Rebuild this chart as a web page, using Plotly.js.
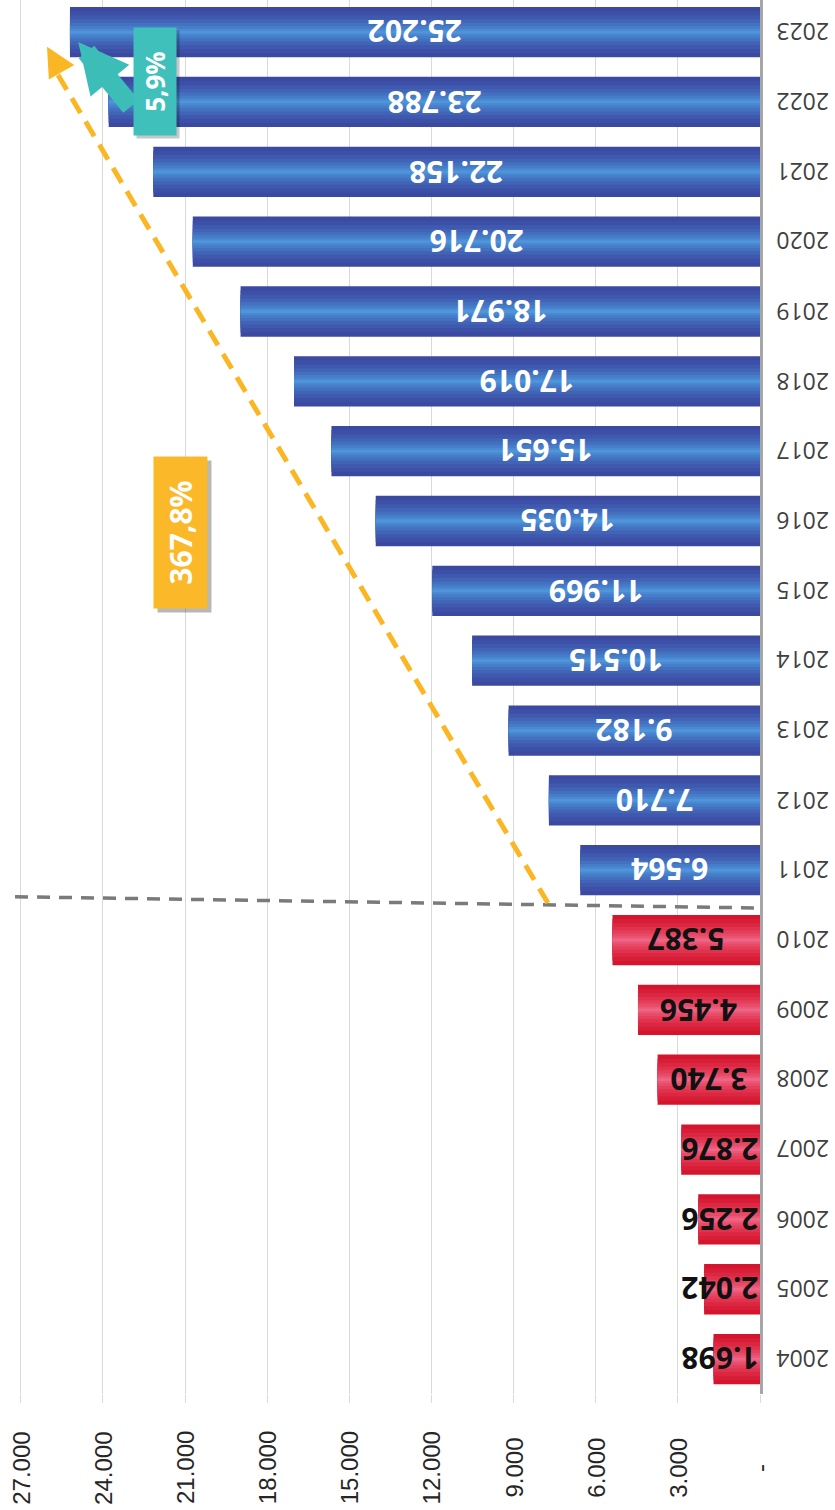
<!DOCTYPE html>
<html>
<head>
<meta charset="utf-8">
<script src="https://cdn.plot.ly/plotly-3.0.1.min.js"></script>
<style>
html,body{margin:0;padding:0;background:#ffffff;}
#chart{width:835px;height:1510px;}
</style>
</head>
<body>
<div id="chart"></div>
<script>
// ---- data ----
const years = ['2004','2005','2006','2007','2008','2009','2010','2011','2012','2013',
               '2014','2015','2016','2017','2018','2019','2020','2021','2022','2023'];
const values = [1698,2042,2256,2876,3740,4456,5387,6564,7710,9182,
                10515,11969,14035,15651,17019,18971,20716,22158,23788,25202];
const tickVals = [0,3000,6000,9000,12000,15000,18000,21000,24000,27000];
const tickText = ['-','3.000','6.000','9.000','12.000','15.000','18.000','21.000','24.000','27.000'];
const splitYear = 2011;          // first year of the second period (blue bars)
const growthTotal = '367,8%';    // 2010 -> 2023
const growthLast = '5,9%';       // 2022 -> 2023

// ---- styling ----
const layerWidths = [0.72, 0.6, 0.48, 0.37, 0.27, 0.18, 0.1, 0.04];
const blueShades = ['#3c49a0', '#3d50a7', '#3f59ae', '#4164b6', '#4370bf', '#467dc9', '#4a89d2', '#4f95da'];
const redShades  = ['#d3152d', '#d81d37', '#dc2742', '#e0324d', '#e43e5a', '#e84b68', '#eb5877', '#ee6586'];

function fmt(v) {
  return String(v).replace(/\B(?=(\d{3})+(?!\d))/g, '.');
}

const traces = layerWidths.map((w, i) => ({
  type: 'bar',
  orientation: 'h',
  y: years,
  x: values,
  width: w,
  marker: {
    color: years.map(y => (+y < splitYear ? redShades[i] : blueShades[i])),
    line: {width: 0}
  },
  hoverinfo: 'skip'
}));

const annotations = [];

// value labels (centered in bar, kept off the axis for short bars) and year labels
const minLabelX = 1450;
years.forEach((y, i) => {
  const blue = +y >= splitYear;
  annotations.push({
    x: Math.max(values[i] / 2, minLabelX), y: i, xref: 'x', yref: 'y',
    text: fmt(values[i]), showarrow: false, textangle: 180,
    xanchor: 'center', yanchor: 'middle',
    font: {family: 'Open Sans, Noto Sans, sans-serif', size: 30, weight: 700,
           color: blue ? '#ffffff' : '#111111'}
  });
  annotations.push({
    x: 1, y: i, xref: 'paper', yref: 'y', xshift: 43,
    text: y, showarrow: false, textangle: 180,
    xanchor: 'center', yanchor: 'middle',
    font: {family: 'Open Sans, sans-serif', size: 23, color: '#404040'}
  });
});

// value-axis tick labels (rotated, centered under each gridline)
tickVals.forEach((t, i) => {
  annotations.push({
    x: t, y: 0, xref: 'x', yref: 'paper', yshift: -74,
    text: tickText[i], showarrow: false, textangle: -90,
    xanchor: 'center', yanchor: 'middle',
    font: {family: 'Liberation Sans, Arial, sans-serif', size: 24, color: '#262626'}
  });
});

// yellow arrow head at the top end of the dashed trend line
annotations.push({
  x: 26040, y: 18.79, xref: 'x', yref: 'y',
  ax: 8, ay: 14, text: '', showarrow: true,
  arrowhead: 2, arrowsize: 1.3, arrowwidth: 4.5, arrowcolor: '#fbb624', standoff: 0
});

// teal block arrow
annotations.push({
  x: 24900, y: 18.86, xref: 'x', yref: 'y',
  ax: 54, ay: 66, text: '', showarrow: true,
  arrowhead: 2, arrowsize: 0.5, arrowwidth: 20, arrowcolor: '#3dbdb8', standoff: 0
});

// shadows of the growth boxes
annotations.push({
  x: 21165, y: 11.835, xref: 'x', yref: 'y', xshift: 4, yshift: -4,
  text: '\u00a0', showarrow: false, textangle: -90, width: 149, height: 51,
  bgcolor: 'rgba(0,0,0,0.28)', font: {size: 10}
});
annotations.push({
  x: 22096, y: 18.286, xref: 'x', yref: 'y', xshift: 3, yshift: -3,
  text: '\u00a0', showarrow: false, textangle: -90, width: 105, height: 40,
  bgcolor: 'rgba(0,0,0,0.22)', font: {size: 10}
});

// growth boxes
annotations.push({
  x: 21165, y: 11.835, xref: 'x', yref: 'y',
  text: growthTotal, showarrow: false, textangle: -90, width: 149, height: 51,
  bgcolor: '#fbb829', valign: 'middle', align: 'center',
  font: {family: 'Open Sans, sans-serif', size: 30, weight: 700, color: '#ffffff'}
});
annotations.push({
  x: 22096, y: 18.286, xref: 'x', yref: 'y',
  text: growthLast, showarrow: false, textangle: -90, width: 105, height: 40,
  bgcolor: '#3fc0bb', valign: 'middle', align: 'center',
  font: {family: 'Open Sans, sans-serif', size: 26, weight: 700, color: '#ffffff'}
});

const shapes = [
  // gray dashed period divider between 2010 and 2011
  {type: 'line', xref: 'paper', yref: 'y', x0: -0.004, y0: 6.62, x1: 0.993, y1: 6.46,
   line: {color: '#7a7a7a', width: 3.5, dash: '13px,9px'}, layer: 'above'},
  // yellow dashed trend line
  {type: 'line', xref: 'x', yref: 'y', x0: 7745, y0: 6.53, x1: 25900, y1: 18.56,
   line: {color: '#fbb624', width: 5, dash: '17px,10px'}, layer: 'above'}
];

const layout = {
  width: 835, height: 1510,
  margin: {l: 18, r: 75, t: 0, b: 116, pad: 0},
  paper_bgcolor: '#ffffff', plot_bgcolor: '#ffffff',
  barmode: 'overlay', showlegend: false,
  font: {family: 'Liberation Sans, Arial, sans-serif'},
  xaxis: {
    range: [27100, 0], tickvals: tickVals, showticklabels: false,
    ticks: 'outside', ticklen: 8, tickcolor: '#d9d9d9', tickwidth: 1,
    showgrid: true, gridcolor: '#d9d9d9', gridwidth: 1,
    zeroline: false, showline: false, fixedrange: true
  },
  yaxis: {
    type: 'category', range: [-0.5, 19.46], side: 'right',
    showticklabels: false, showgrid: false, ticks: '',
    showline: true, linecolor: '#a6a6a6', linewidth: 3,
    zeroline: false, fixedrange: true
  },
  shapes: shapes,
  annotations: annotations
};

Plotly.newPlot('chart', traces, layout, {displayModeBar: false, staticPlot: true});
</script>
</body>
</html>
